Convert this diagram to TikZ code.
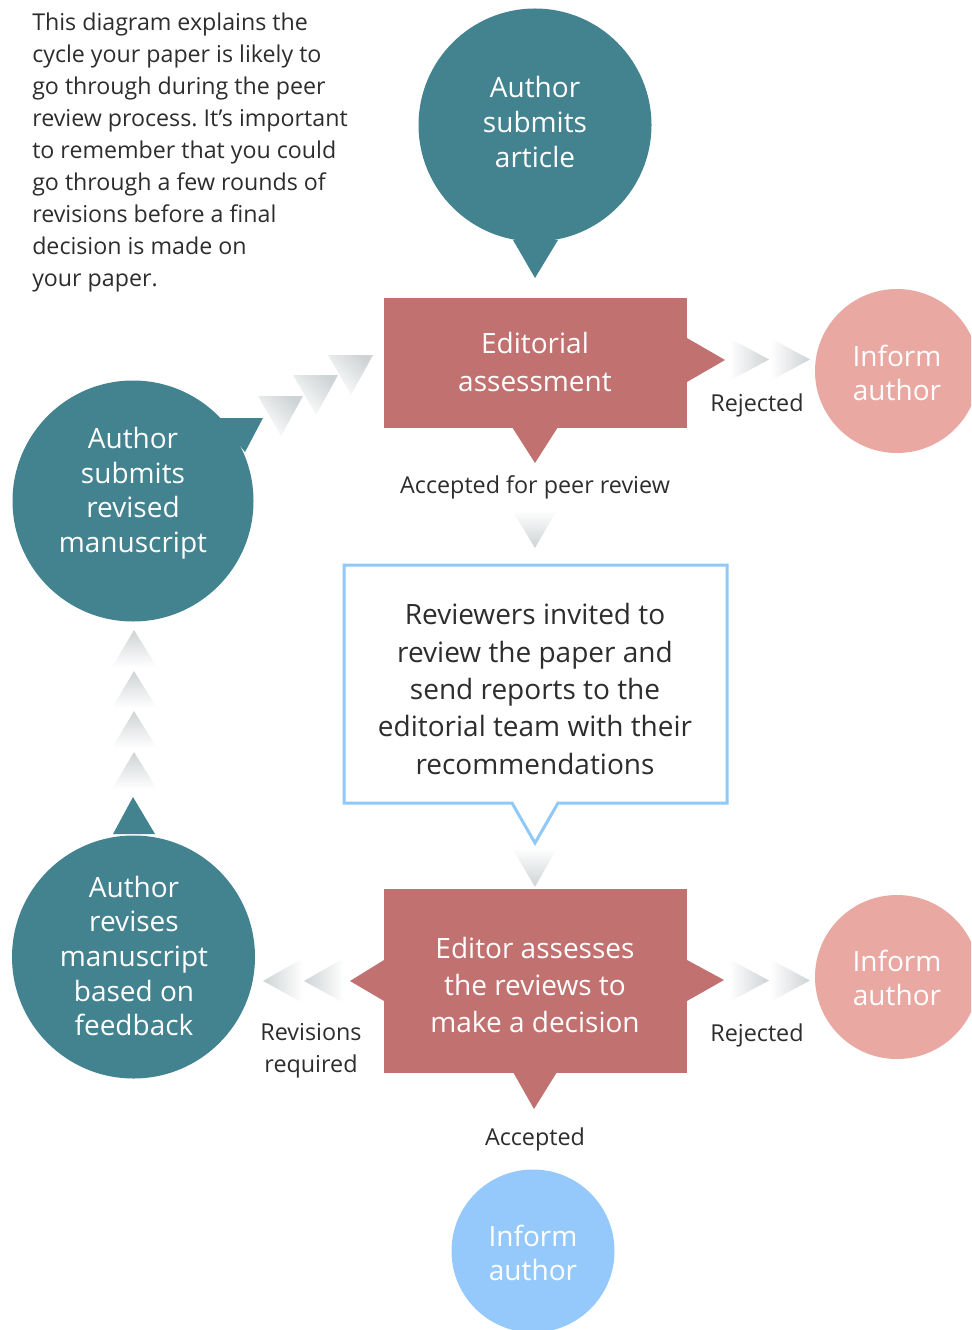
\documentclass[tikz,border=0pt]{standalone}
\usepackage{fontspec}
\setmainfont{Open Sans}
\frenchspacing
\definecolor{tealc}{RGB}{67,130,143}
\definecolor{redc}{RGB}{192,113,112}
\definecolor{pinkc}{RGB}{233,168,162}
\definecolor{bluec}{RGB}{150,201,251}
\definecolor{borderc}{RGB}{144,200,248}
\definecolor{chevc}{RGB}{206,211,213}
\definecolor{txtc}{RGB}{45,45,45}
\begin{document}
\begin{tikzpicture}[x=0.75pt,y=-0.75pt,
  disc/.style={circle, inner sep=0pt, draw=none},
  wtxt/.style={text=white, align=center, inner sep=0pt},
  big/.style={font=\fontsize{21}{26}\selectfont},
  boxfont/.style={font=\fontsize{21}{27.9}\selectfont},
  lbl/.style={text=txtc, inner sep=0pt, align=center, font=\fontsize{17.5}{24}\selectfont},
  chevR/.style={top color=chevc, bottom color=white, shading angle=-90},
  chevL/.style={top color=chevc, bottom color=white, shading angle=90},
  chevD/.style={top color=white, bottom color=chevc},
  chevU/.style={top color=chevc, bottom color=white},
  chevUR/.style={top color=chevc, bottom color=white, shading angle=-45}
]
\useasboundingbox (0,0) rectangle (971,1330);
\clip (0,0) rectangle (971,1330);

% intro paragraph
\node[anchor=west, align=left, text=txtc, inner sep=0pt, font=\fontsize{17.4}{24}\selectfont] (intro) at (32,152)
 {This diagram explains the\\cycle your paper is likely to\\go through during the peer\\review process. It’s important\\to remember that you could\\go through a few rounds of\\revisions before a final\\decision is made on\\your paper.};

% top circle: author submits article
\fill[tealc] (513,240) -- (535,278) -- (558,240) -- cycle;
\node[disc, fill=tealc, minimum size=174.75pt] (c1) at (535,125) {};
\node[wtxt, big] (t1) at (535,122) {Author\\submits\\article};

% editorial assessment box
\fill[redc] (687,338) -- (725,360) -- (687,382) -- cycle;
\fill[redc] (512,427) -- (535,463) -- (558,427) -- cycle;
\node[fill=redc, minimum width=227.25pt, minimum height=97.5pt, inner sep=0pt] (ed) at (535.5,363) {};
\node[wtxt, boxfont] (edt) at (535,362) {Editorial\\assessment};

% chevrons to first rejection
\shade[chevR] (729,338) -- (769,359.5) -- (729,381) -- cycle;
\shade[chevR] (770,338) -- (810,359.5) -- (770,381) -- cycle;
\node[lbl] (rej1) at (757,405) {Rejected};
\node[disc, fill=pinkc, minimum size=123pt] (p1) at (897,371) {};
\node[wtxt, font=\fontsize{21}{25.5}\selectfont] (p1t) at (897,373) {Inform\\author};

% accepted for peer review
\node[lbl] (acc1) at (535,487) {Accepted for peer review};
\shade[chevD] (512,510) -- (557,510) -- (535,548) -- cycle;

% reviewers box (callout)
\draw[draw=borderc, fill=white, line width=2.25pt, line join=miter]
  (344,565) -- (727,565) -- (727,803) -- (558,803) -- (535,843) -- (512,803) -- (344,803) -- cycle;
\node[text=txtc, align=center, inner sep=0pt, font=\fontsize{21}{28.1}\selectfont] (rv) at (535,689)
 {Reviewers invited to\\review the paper and\\send reports to the\\editorial team with their\\recommendations};
\shade[chevD] (512,848) -- (557,848) -- (535,887) -- cycle;

% editor assesses box
\fill[redc] (384,960) -- (350,981) -- (384,1001) -- cycle;
\fill[redc] (687,960) -- (724,980) -- (687,1001) -- cycle;
\fill[redc] (513,1072) -- (534,1109) -- (557,1072) -- cycle;
\node[fill=redc, minimum width=227.25pt, minimum height=138pt, inner sep=0pt] (ea) at (535.5,981) {};
\node[wtxt, boxfont] (eat) at (535,985) {Editor assesses\\the reviews to\\make a decision};

% rejection 2
\shade[chevR] (729,959) -- (769,980.5) -- (729,1002) -- cycle;
\shade[chevR] (770,959) -- (810,980.5) -- (770,1002) -- cycle;
\node[lbl] (rej2) at (757,1035) {Rejected};
\node[disc, fill=pinkc, minimum size=123pt] (p2) at (897,977) {};
\node[wtxt, font=\fontsize{21}{25.5}\selectfont] (p2t) at (897,978) {Inform\\author};

% accepted
\node[lbl] (acc2) at (535,1139) {Accepted};
\node[disc, fill=bluec, minimum size=122.25pt] (b1) at (533,1251) {};
\node[wtxt, font=\fontsize{21}{25.5}\selectfont] (b1t) at (533,1253) {Inform\\author};

% revisions required
\shade[chevL] (263,981) -- (303,958) -- (303,1003) -- cycle;
\shade[chevL] (304,981) -- (344,958) -- (344,1003) -- cycle;
\node[lbl] (rev) at (311,1051) {Revisions\\required};

% author revises circle
\fill[tealc] (113,834) -- (133,797) -- (155,834) -- cycle;
\node[disc, fill=tealc, minimum size=182.25pt] (c3) at (133.5,957) {};
\node[wtxt, font=\fontsize{21}{25.9}\selectfont] (c3t) at (134,956) {Author\\revises\\manuscript\\based on\\feedback};

% up chevrons
\foreach \t in {630,671,711,752}{
  \shade[chevU] (134,\t) -- (157,\t+37) -- (112,\t+37) -- cycle;
}

% author submits revised manuscript circle
\fill[tealc] (218,418) -- (263,418) -- (245,452) -- cycle;
\node[disc, fill=tealc, minimum size=180.75pt] (c2) at (133,501) {};
\node[wtxt, font=\fontsize{21}{25.9}\selectfont] (c2t) at (133,493) {Author\\submits\\revised\\manuscript};

% diagonal chevrons
\foreach \x/\y in {303/396,338/375,373/355}{
  \shade[chevUR] (\x-45,\y) -- (\x,\y) -- (\x-22,\y+40) -- cycle;
}
\end{tikzpicture}
\end{document}
